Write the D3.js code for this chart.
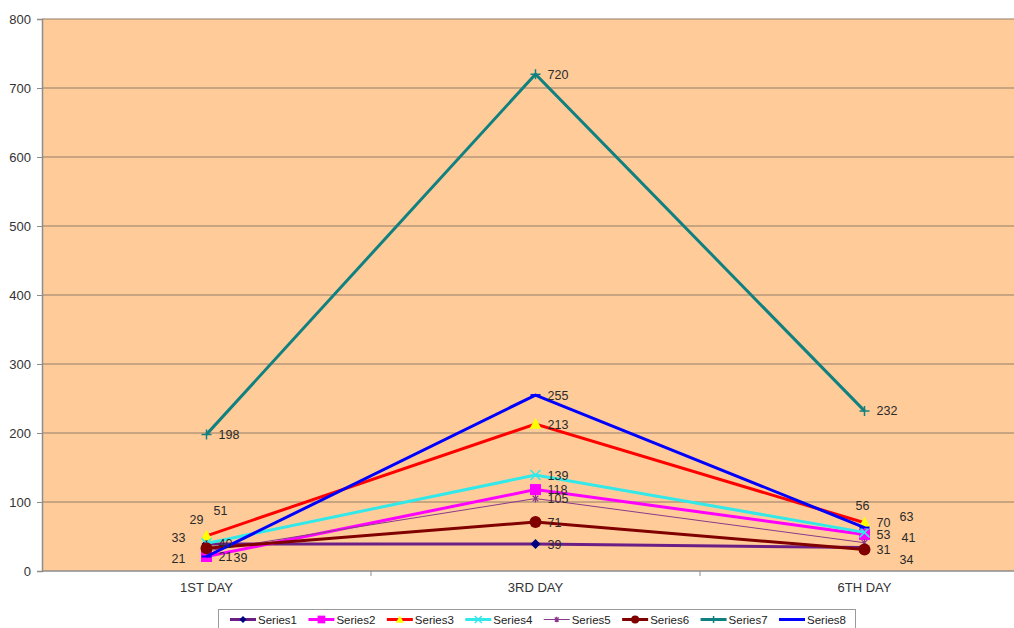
<!DOCTYPE html>
<html>
<head>
<meta charset="utf-8">
<script src="https://cdn.jsdelivr.net/npm/d3@7"></script>
<style>
  html, body { margin: 0; padding: 0; background: #fff; }
  svg { display: block; font-family: "Liberation Sans", Arial, sans-serif; }
</style>
</head>
<body>
<svg id="chart" width="1014" height="628"></svg>
<script>
// Categories and series values
const days = ["1ST DAY", "3RD DAY", "6TH DAY"];
const seriesNames = ["Series1", "Series2", "Series3", "Series4", "Series5", "Series6", "Series7", "Series8"];
const series1 = [39, 39, 34];
const series2 = [21, 118, 53];
const series3 = [51, 213, 70];
const series4 = [40, 139, 56];
const series5 = [29, 105, 41];
const series6 = [33, 71, 31];
const series7 = [198, 720, 232];
const series8 = [21, 255, 63];
const yTicks = [0, 100, 200, 300, 400, 500, 600, 700, 800];

const allValues = [series1, series2, series3, series4, series5, series6, series7, series8];

// Look of each series: line colour, marker colour, marker shape, line width
const styles = [
  { line: "#6b1f86", fill: "#000080", shape: "diamond", w: 3 },
  { line: "#ff00ff", fill: "#ff00ff", shape: "square", w: 3 },
  { line: "#ff0000", fill: "#ffff00", shape: "triangle", w: 3 },
  { line: "#33e8e8", fill: "#33e8e8", shape: "cross", w: 3 },
  { line: "#8a3a8a", fill: "#8a3a8a", shape: "star", w: 1 },
  { line: "#800000", fill: "#800000", shape: "circle", w: 3 },
  { line: "#108080", fill: "#108080", shape: "plus", w: 3 },
  { line: "#0000ff", fill: "#0000ff", shape: "dash", w: 3 }
];

// Hand-placed data label nudges (pixels) for crowded points: [series][day] -> [dx, dy]
const labelNudges = [
  [[15, 13], [0, 0], [23, 12]],
  [[0, 0], [0, 0], [0, 0]],
  [[-5, -25], [0, 0], [0, 0]],
  [[0, 0], [0, 0], [-21, -27]],
  [[-29, -31], [0, 0], [25, -5]],
  [[-47, -11], [0, 0], [0, 0]],
  [[0, 0], [0, 0], [0, 0]],
  [[-47, 2], [0, 0], [23, -11]]
];

const svg = d3.select("#chart");
const plot = { left: 42, right: 1029, top: 19, bottom: 571 };

const x = d3.scalePoint().domain(days).range([plot.left, plot.right]).padding(0.5);
const xBand = d3.scaleBand().domain(days).range([plot.left, plot.right]);
const y = d3.scaleLinear().domain([0, 800]).range([plot.bottom, plot.top]);

// Plot background
svg.append("rect")
  .attr("x", plot.left).attr("y", plot.top)
  .attr("width", plot.right - plot.left).attr("height", plot.bottom - plot.top)
  .attr("fill", "#ffcc99");

// Horizontal gridlines
svg.append("g").selectAll("line").data(yTicks.filter(t => t > 0)).join("line")
  .attr("x1", plot.left).attr("x2", plot.right)
  .attr("y1", d => y(d)).attr("y2", d => y(d))
  .attr("stroke", "#937c68").attr("stroke-width", 1.2);

// Y axis
const yAxis = svg.append("g").attr("transform", `translate(${plot.left},0)`)
  .call(d3.axisLeft(y).tickValues(yTicks).tickSize(5).tickPadding(6));
yAxis.select(".domain").attr("stroke", "#8c8c8c").attr("stroke-width", 1.5);
yAxis.selectAll(".tick line").attr("stroke", "#8c8c8c");
yAxis.selectAll(".tick text").attr("fill", "#333").attr("font-size", 13);

// X axis with ticks on category boundaries
const xAxisG = svg.append("g").attr("transform", `translate(0,${plot.bottom})`);
xAxisG.append("line")
  .attr("x1", plot.left).attr("x2", plot.right)
  .attr("stroke", "#8c8c8c").attr("stroke-width", 1.5);
xAxisG.selectAll("line.bound").data(days.slice(1)).join("line")
  .attr("class", "bound")
  .attr("x1", d => xBand(d)).attr("x2", d => xBand(d))
  .attr("y1", 0).attr("y2", 5)
  .attr("stroke", "#8c8c8c");
xAxisG.selectAll("text").data(days).join("text")
  .attr("x", d => x(d)).attr("y", 21)
  .attr("text-anchor", "middle")
  .attr("fill", "#333").attr("font-size", 13)
  .text(d => d);

// Marker drawing
function drawMarker(g, shape, fill, stroke, size) {
  const s = size;
  switch (shape) {
    case "diamond":
      g.append("path").attr("d", `M0,${-s}L${s},0L0,${s}L${-s},0Z`).attr("fill", fill);
      break;
    case "square":
      g.append("rect").attr("x", -s).attr("y", -s).attr("width", 2 * s).attr("height", 2 * s).attr("fill", fill);
      break;
    case "triangle":
      g.append("path").attr("d", `M0,${-s}L${s},${s * 0.8}L${-s},${s * 0.8}Z`).attr("fill", fill);
      break;
    case "cross":
      g.append("path").attr("d", `M${-s},${-s}L${s},${s}M${s},${-s}L${-s},${s}`).attr("stroke", fill).attr("stroke-width", 1.5);
      break;
    case "star":
      g.append("path").attr("d", `M${-s * 0.7},${-s * 0.7}L${s * 0.7},${s * 0.7}M${s * 0.7},${-s * 0.7}L${-s * 0.7},${s * 0.7}M0,${-s}L0,${s}`)
        .attr("stroke", fill).attr("stroke-width", 1.2);
      break;
    case "circle":
      g.append("circle").attr("r", s).attr("fill", fill);
      break;
    case "plus":
      g.append("path").attr("d", `M${-s},0L${s},0M0,${-s}L0,${s}`).attr("stroke", fill).attr("stroke-width", 1.5);
      break;
    case "dash":
      g.append("path").attr("d", `M${-s},0L${s},0`).attr("stroke", fill).attr("stroke-width", 2);
      break;
  }
}

const markerSize = { diamond: 5, square: 5.5, triangle: 6, cross: 5, star: 4, circle: 6, plus: 5, dash: 5 };

const line = d3.line().x((d, i) => x(days[i])).y(d => y(d));

const seriesG = svg.append("g");
allValues.forEach((vals, si) => {
  const st = styles[si];
  const g = seriesG.append("g");
  g.append("path").datum(vals)
    .attr("d", line)
    .attr("fill", "none")
    .attr("stroke", st.line)
    .attr("stroke-width", st.w)
    .attr("stroke-linejoin", "miter");
  vals.forEach((v, i) => {
    const m = g.append("g").attr("transform", `translate(${x(days[i])},${y(v)})`);
    drawMarker(m, st.shape, st.fill, st.line, markerSize[st.shape]);
  });
});

// Data labels
const labelG = svg.append("g");
allValues.forEach((vals, si) => {
  vals.forEach((v, i) => {
    const [dx, dy] = labelNudges[si][i];
    labelG.append("text")
      .attr("x", x(days[i]) + 12 + dx)
      .attr("y", y(v) + dy)
      .attr("dy", "0.36em")
      .attr("fill", "#2a2a2a")
      .attr("font-size", 12.5)
      .text(v);
  });
});

// Legend
const legend = svg.append("g");
legend.append("rect")
  .attr("x", 218.5).attr("y", 609.5).attr("width", 637).attr("height", 30)
  .attr("fill", "#fff").attr("stroke", "#9a9a9a");
const legendX = d3.scalePoint().domain(seriesNames).range([230, 779]);
seriesNames.forEach((name, si) => {
  const st = styles[si];
  const lx = legendX(name);
  const ly = 619.5;
  const item = legend.append("g");
  item.append("line")
    .attr("x1", lx).attr("x2", lx + 26).attr("y1", ly).attr("y2", ly)
    .attr("stroke", st.line).attr("stroke-width", st.w);
  const m = item.append("g").attr("transform", `translate(${lx + 13},${ly})`);
  drawMarker(m, st.shape, st.fill, st.line, Math.min(4, markerSize[st.shape] * 0.7));
  item.append("text")
    .attr("x", lx + 28).attr("y", ly).attr("dy", "0.35em")
    .attr("fill", "#222").attr("font-size", 11.5)
    .text(name);
});
</script>
</body>
</html>
